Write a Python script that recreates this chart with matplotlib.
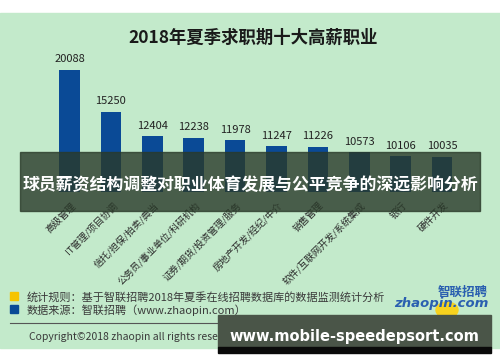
import matplotlib
matplotlib.use('Agg')
import matplotlib.pyplot as plt
from matplotlib.patches import Rectangle, Circle

plt.rcParams['font.family'] = ['Noto Sans CJK SC', 'DejaVu Sans']

# data
title = '2018年夏季求职期十大高薪职业'
categories = ['高级管理', 'IT管理/项目协调', '信托/担保/拍卖/典当', '公务员/事业单位/科研机构',
              '证券/期货/投资管理/服务', '房地产开发/经纪/中介', '销售管理',
              '软件/互联网开发/系统集成', '银行', '硬件开发']
values = [20088, 15250, 12404, 12238, 11978, 11247, 11226, 10573, 10106, 10035]
note_rule = '统计规则：基于智联招聘2018年夏季在线招聘数据库的数据监测统计分析'
note_source = '数据来源：智联招聘（www.zhaopin.com）'
copyright_text = 'Copyright©2018 zhaopin all rights reserved'
banner_text = '球员薪资结构调整对职业体育发展与公平竞争的深远影响分析'
site_text = 'www.mobile-speedepsort.com'

W, H = 500, 362
fig = plt.figure(figsize=(W / 100, H / 100), dpi=100)
fig.patch.set_facecolor('white')

def fx(px):
    return px / W

def fy(py):
    # py measured from top of image
    return 1 - py / H

# green panel
fig.patches.append(Rectangle((0, fy(348)), 1, (348 - 13) / H, transform=fig.transFigure,
                             color='#c3eacb', zorder=-5))

# bar axes
ax = fig.add_axes([fx(48.8), fy(192), 414 / W, (192 - 53) / H])
ax.set_facecolor('none')
ax.set_zorder(1)
x = list(range(len(values)))
bars = ax.bar(x, values, width=0.5, color='#0a4a96')
ax.set_xlim(-0.5, 9.5)
ax.set_ylim(6000, 22000)
for b, v in zip(bars, values):
    ax.annotate(str(v), (b.get_x() + b.get_width() / 2, v), xytext=(0, 4),
                textcoords='offset points', ha='center', va='bottom',
                fontsize=8, color='#222222')
ax.axis('off')
for i, c in enumerate(categories):
    ax.text(i + 0.03, 5000, c, rotation=45, rotation_mode='anchor',
            ha='right', va='top', fontsize=6.8, color='#2a2a2a', clip_on=False)

fig.text(fx(253), fy(38), title, ha='center', va='center', fontsize=12.5,
         fontweight='bold', color='#1a1a1a')

# legend notes
fig.patches.append(Rectangle((fx(10), fy(300)), 8 / W, 8 / H, transform=fig.transFigure,
                             color='#f5c400', zorder=2))
fig.patches.append(Rectangle((fx(10), fy(313)), 8 / W, 8 / H, transform=fig.transFigure,
                             color='#0a4a96', zorder=2))
fig.text(fx(27), fy(297), note_rule, ha='left', va='center', fontsize=8, color='#3a3a3a')
fig.text(fx(27), fy(310), note_source, ha='left', va='center', fontsize=8, color='#3a3a3a')
fig.add_artist(plt.Line2D([fx(10), fx(490)], [fy(323), fy(323)], color='#555555', lw=0.8))
fig.text(fx(29), fy(337), copyright_text, ha='left', va='center', fontsize=7.5, color='#3a3a3a')

# logo
fig.patches.append(Circle((fx(447), fy(310)), 0.022, transform=fig.transFigure,
                          color='#f7d21e', zorder=2))
fig.text(fx(488), fy(292), '智联招聘', ha='right', va='center', fontsize=9,
         fontweight='bold', style='italic', color='#2a5fb0', zorder=3)
fig.text(fx(488), fy(304), 'zhaopin.com', ha='right', va='center', fontsize=9.5,
         fontweight='bold', style='italic', color='#2a5fb0', family='DejaVu Sans', zorder=3)

# overlay banners
fig.patches.append(Rectangle((fx(20), fy(211)), 460 / W, (211 - 152) / H,
                             transform=fig.transFigure, color='#2a3a2a', alpha=0.8, zorder=5))
fig.text(fx(250), fy(185), banner_text, ha='center', va='center', fontsize=12.2,
         fontweight='bold', color='white', zorder=6)
fig.patches.append(Rectangle((fx(218), fy(347)), 273 / W, (347 - 315) / H,
                             transform=fig.transFigure, color='#4a5548', zorder=5))
fig.patches.append(Rectangle((fx(218), fy(353)), 273 / W, 6 / H,
                             transform=fig.transFigure, color='#0a0a0a', zorder=5))
fig.text(fx(354), fy(337), site_text, ha='center', va='center', fontsize=10.5,
         fontweight='bold', color='white', family='DejaVu Sans', zorder=6)

fig.savefig('out.png', dpi=100, facecolor=fig.get_facecolor())
